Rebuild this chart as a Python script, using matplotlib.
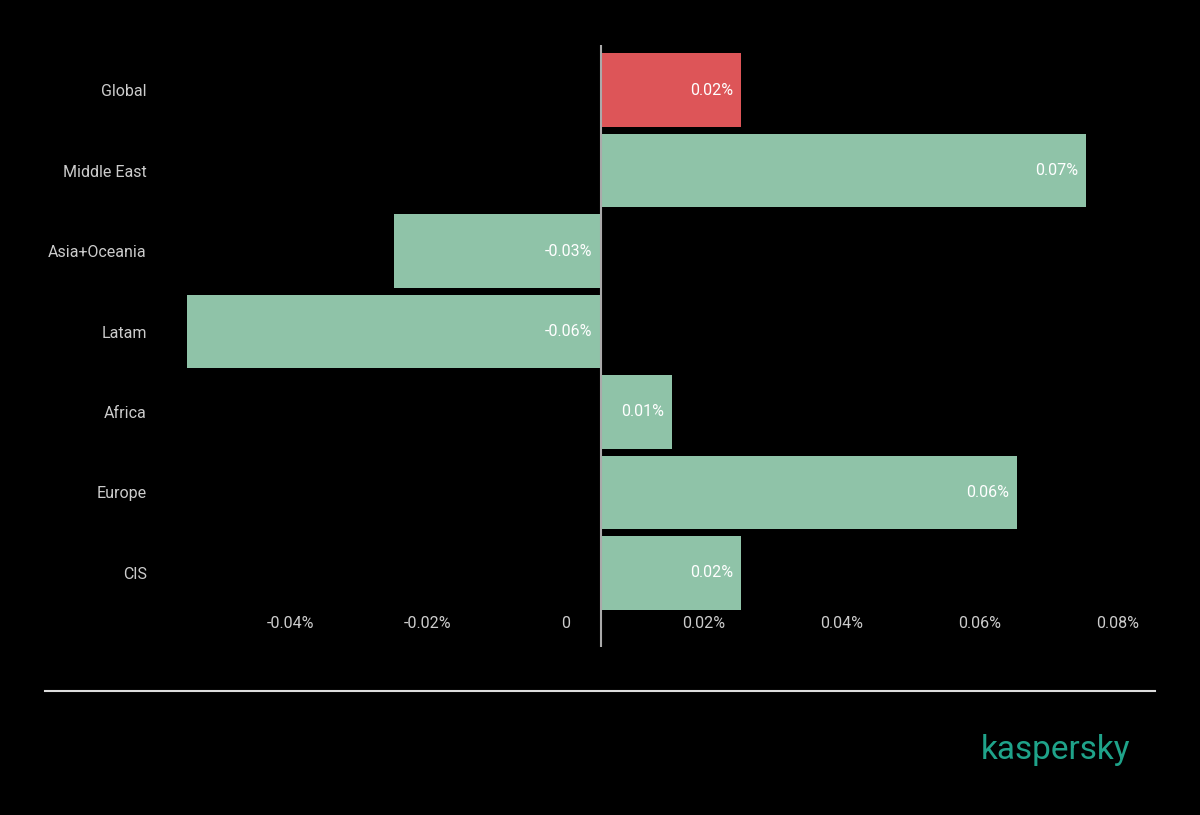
import matplotlib.pyplot as plt
import matplotlib.transforms as mtrans

regions = ["Global", "Middle East", "Asia+Oceania", "Latam", "Africa", "Europe", "CIS"]
values = [0.0203, 0.0703, -0.030, -0.060, 0.0103, 0.0603, 0.0203]
value_labels = ["0.02%", "0.07%", "-0.03%", "-0.06%", "0.01%", "0.06%", "0.02%"]
xticks = [-0.04, -0.02, 0, 0.02, 0.04, 0.06, 0.08]
xtick_labels = ["-0.04%", "-0.02%", "0", "0.02%", "0.04%", "0.06%", "0.08%"]

plt.rcParams["font.family"] = "Roboto"
fig = plt.figure(figsize=(12, 8.15), dpi=100)
fig.patch.set_facecolor("black")
ax = fig.add_axes([187/1200, 1-647/815, (1153-187)/1200, (647-45)/815])
ax.set_facecolor("black")

colors = ["#dd5558"] + ["#8fc3a8"]*6
ypos = list(range(len(regions)))
ax.barh(ypos, values, height=0.91, color=colors)
for y, v, lab in zip(ypos, values, value_labels):
    ax.text(v - 0.0012 if v > 0 else -0.0012, y, lab, ha="right", va="center",
            color="white", fontsize=11.5)

ax.set_xlim(-0.06, 0.08)
ax.set_ylim(len(regions) - 1 + 0.92, -0.56)
ax.axvline(0, color="#aaaaaa", lw=1.5)
ax.set_yticks(ypos)
ax.set_yticklabels(regions)
ax.set_xticks(xticks)
ax.set_xticklabels(xtick_labels)
ax.tick_params(axis="y", length=0, pad=29, colors="#cccccc", labelsize=11.5)
ax.tick_params(axis="x", length=0, pad=-22, colors="#cccccc", labelsize=11.5)
offset = mtrans.ScaledTranslation(-35/100, 0, fig.dpi_scale_trans)
for lab in ax.get_xticklabels():
    lab.set_transform(lab.get_transform() + offset)
for s in ax.spines.values():
    s.set_visible(False)

fig.add_artist(plt.Line2D([45/1200, 1155/1200], [1-691/815, 1-691/815], color="#dddddd", lw=1.5))
fig.text(1130/1200, 1-750/815, "kaspersky", color="#1fa38a", fontsize=24, ha="right", va="center")

fig.savefig("out.png", dpi=100, facecolor="black")
